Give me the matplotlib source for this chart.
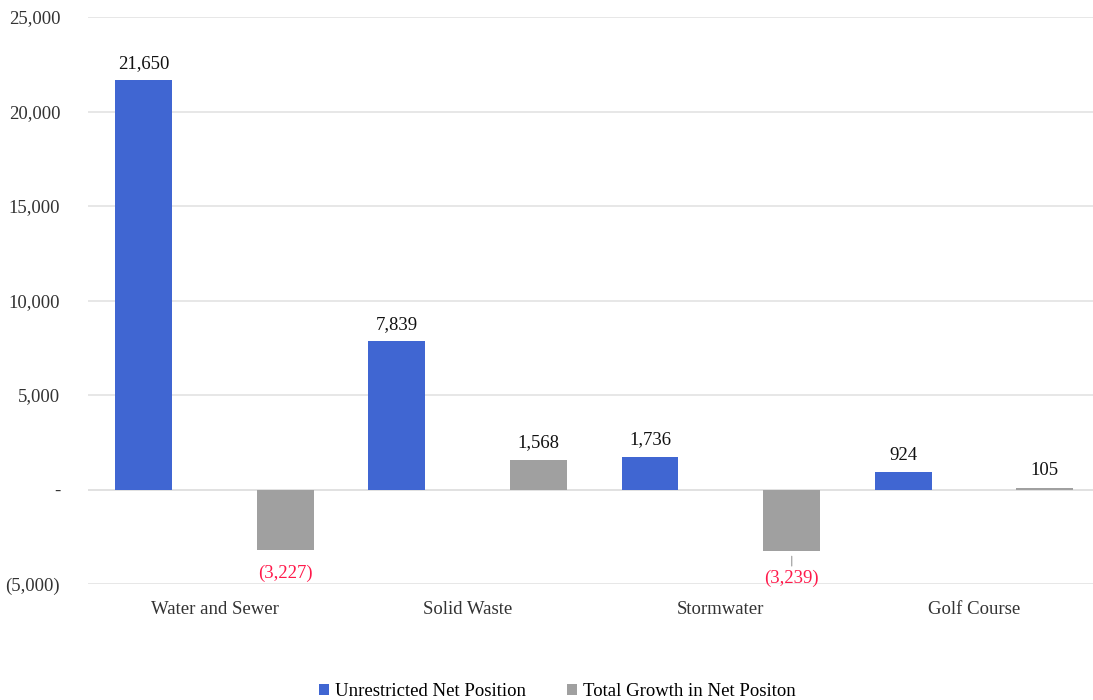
import matplotlib.pyplot as plt
import numpy as np

categories = ['Water and Sewer', 'Solid Waste', 'Stormwater', 'Golf Course']
unrestricted = [21650, 7839, 1736, 924]
growth = [-3227, 1568, -3239, 105]
yticks = [-5000, 0, 5000, 10000, 15000, 20000, 25000]
ytick_labels = ['(5,000)', '-', '5,000', '10,000', '15,000', '20,000', '25,000']

plt.rcParams['font.family'] = ['Liberation Serif', 'DejaVu Serif']

blue = '#4066d2'
gray = '#a0a0a0'
red = '#ff1a4b'
fs = 13.5


def fmt(v):
    return f'({abs(v):,})' if v < 0 else f'{v:,}'


fig = plt.figure(figsize=(10.93, 7.0), dpi=100)
ax = fig.add_axes([88 / 1093, 116 / 700, 1005 / 1093, 567 / 700])

x = np.arange(len(categories))
w = 0.225
off = 0.28
ax.bar(x - off, unrestricted, w, color=blue, label='Unrestricted Net Position', zorder=3)
ax.bar(x + off, growth, w, color=gray, label='Total Growth in Net Positon', zorder=3)

for xi, v in zip(x - off, unrestricted):
    ax.annotate(fmt(v), (xi, v), xytext=(0, 6), textcoords='offset points',
                ha='center', va='bottom', fontsize=fs, color='#111111')

for i, (xi, v) in enumerate(zip(x + off, growth)):
    if v >= 0:
        ax.annotate(fmt(v), (xi, v), xytext=(0, 6), textcoords='offset points',
                    ha='center', va='bottom', fontsize=fs, color='#111111')
    elif i == 2:
        # label pushed down with a small leader line
        ax.annotate(fmt(v), (xi, v), xytext=(0, -14), textcoords='offset points',
                    ha='center', va='top', fontsize=fs, color=red,
                    arrowprops=dict(arrowstyle='-', color='#999999', lw=0.8,
                                    shrinkA=1, shrinkB=4))
    else:
        ax.annotate(fmt(v), (xi, v), xytext=(0, -10), textcoords='offset points',
                    ha='center', va='top', fontsize=fs, color=red)

ax.set_xlim(-0.5, 3.47)
ax.set_ylim(-5000, 25000)
ax.set_yticks(yticks)
ax.set_yticklabels(ytick_labels)
ax.set_xticks(x)
ax.set_xticklabels(categories)
ax.tick_params(axis='both', length=0, labelsize=fs, colors='#333333')
ax.tick_params(axis='x', pad=12)
ax.tick_params(axis='y', pad=20)
ax.grid(axis='y', color='#e3e3e3', linewidth=1.2, zorder=0)
ax.axhline(0, color='#d4d4d4', linewidth=1.2, zorder=1)
for s in ax.spines.values():
    s.set_visible(False)

fig.legend(loc='lower center', bbox_to_anchor=(0.51, -0.024), ncol=2, frameon=False,
           fontsize=fs, handlelength=0.55, handleheight=0.55, handletextpad=0.3,
           columnspacing=2.2)

fig.savefig('out.png', dpi=100)
